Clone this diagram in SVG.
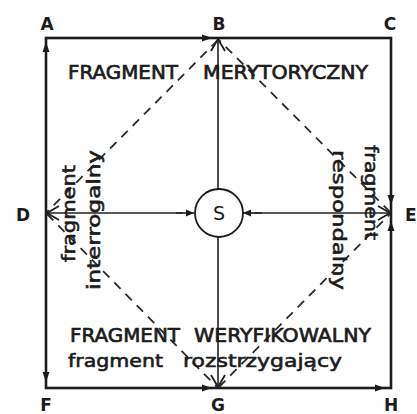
<svg xmlns="http://www.w3.org/2000/svg" width="417" height="414" viewBox="0 0 417 414">
  <style>
    .frame { fill: none; stroke: #1c1c1c; stroke-width: 2.6; }
    .axis { fill: none; stroke: #222; stroke-width: 1.6; }
    .dash { fill: none; stroke: #2a2a2a; stroke-width: 1.8; stroke-dasharray: 9 7; }
    .lbl { font-family: "DejaVu Sans", "Liberation Sans", sans-serif; font-size: 17px; font-weight: bold; fill: #1c1c1c; text-anchor: middle; }
    .cap { font-family: "DejaVu Sans", "Liberation Sans", sans-serif; font-size: 19px; fill: #1c1c1c; stroke: #1c1c1c; stroke-width: 0.7; }
    .low { font-family: "DejaVu Sans", "Liberation Sans", sans-serif; font-size: 18px; fill: #1c1c1c; stroke: #1c1c1c; stroke-width: 0.6; }
    .tri { fill: #1c1c1c; }
  </style>
  <defs>
    <marker id="open" viewBox="-14 -9 16 18" refX="0" refY="0" markerWidth="16" markerHeight="18" markerUnits="userSpaceOnUse" orient="auto">
      <path d="M-12,-7 L0,0 L-12,7" fill="none" stroke="#1c1c1c" stroke-width="1.8"/>
    </marker>
    <marker id="inward" viewBox="-9 -5 10 10" refX="0" refY="0" markerWidth="10" markerHeight="10" markerUnits="userSpaceOnUse" orient="auto">
      <path d="M-8,-3.5 L0,0 L-8,3.5 Z" fill="#1c1c1c"/>
    </marker>
  </defs>
  <rect width="417" height="414" fill="#ffffff"/>

  <g id="connectors">
    <rect class="frame" x="46" y="38" width="345" height="350"/>
    <!-- axes from S to B, D, E, G -->
    <line class="axis" x1="218" y1="189" x2="218" y2="39" marker-end="url(#open)"/>
    <line class="axis" x1="218" y1="237" x2="218" y2="387" marker-end="url(#open)"/>
    <line class="axis" x1="183" y1="213" x2="47" y2="213" marker-end="url(#open)"/>
    <line class="axis" x1="254" y1="213" x2="390" y2="213" marker-end="url(#open)"/>
    <!-- small arrows into S -->
    <line class="axis" x1="176" y1="213" x2="194" y2="213" marker-end="url(#inward)"/>
    <line class="axis" x1="262" y1="213" x2="243" y2="213" marker-end="url(#inward)"/>
    <!-- dashed diamond -->
    <line class="dash" x1="218" y1="40" x2="47" y2="212"/>
    <line class="dash" x1="47" y1="214" x2="217" y2="387"/>
    <line class="dash" x1="219" y1="387" x2="390" y2="214"/>
    <line class="dash" x1="390" y1="212" x2="219" y2="40"/>
    <!-- small filled arrowheads on the frame -->
    <path class="tri" d="M46,42 L42.5,52 L49.5,52 Z"/>
    <path class="tri" d="M212,38 L202,34.5 L202,41.5 Z"/>
    <path class="tri" d="M46,382 L42.5,372 L49.5,372 Z"/>
    <path class="tri" d="M212,388 L202,384.5 L202,391.5 Z"/>
    <path class="tri" d="M385,388 L375,384.5 L375,391.5 Z"/>
    <path class="tri" d="M391,205 L387.5,195 L394.5,195 Z"/>
    <path class="tri" d="M391,221 L387.5,231 L394.5,231 Z"/>
  </g>

  <g id="node-S">
    <circle cx="219" cy="213" r="24" fill="#ffffff" stroke="#1c1c1c" stroke-width="1.8"/>
    <text class="lbl" x="219" y="220" style="font-weight:normal;font-size:19px">S</text>
  </g>

  <g id="node-A"><text class="lbl" x="47" y="30">A</text></g>
  <g id="node-B"><text class="lbl" x="219" y="30">B</text></g>
  <g id="node-C"><text class="lbl" x="390" y="30">C</text></g>
  <g id="node-D"><text class="lbl" x="23" y="221">D</text></g>
  <g id="node-E"><text class="lbl" x="405" y="221" style="text-anchor:start">E</text></g>
  <g id="node-F"><text class="lbl" x="46" y="411">F</text></g>
  <g id="node-G"><text class="lbl" x="218" y="411">G</text></g>
  <g id="node-H"><text class="lbl" x="391" y="411">H</text></g>

  <g id="label-merytoryczny">
    <text class="cap" y="79"><tspan x="68" textLength="110" lengthAdjust="spacingAndGlyphs">FRAGMENT</tspan><tspan x="203" textLength="165" lengthAdjust="spacingAndGlyphs">MERYTORYCZNY</tspan></text>
  </g>
  <g id="label-weryfikowalny">
    <text class="cap" y="342"><tspan x="70" textLength="110" lengthAdjust="spacingAndGlyphs">FRAGMENT</tspan><tspan x="194" textLength="177" lengthAdjust="spacingAndGlyphs">WERYFIKOWALNY</tspan></text>
  </g>
  <g id="label-rozstrzygajacy">
    <text class="low" y="367"><tspan x="68" textLength="95" lengthAdjust="spacingAndGlyphs">fragment</tspan><tspan x="183" textLength="159" lengthAdjust="spacingAndGlyphs">rozstrzygający</tspan></text>
  </g>
  <g id="label-interrogalny">
    <text class="low" transform="translate(75,262) rotate(-90)" x="0" y="0" textLength="97" lengthAdjust="spacingAndGlyphs">fragment</text>
    <text class="low" transform="translate(100,290) rotate(-90)" x="0" y="0" textLength="140" lengthAdjust="spacingAndGlyphs">interrogalny</text>
  </g>
  <g id="label-respondalny">
    <text class="low" transform="translate(333,150) rotate(90)" x="0" y="0" textLength="140" lengthAdjust="spacingAndGlyphs">respondalny</text>
    <text class="low" transform="translate(365,145) rotate(90)" x="0" y="0" textLength="95" lengthAdjust="spacingAndGlyphs">fragment</text>
  </g>
</svg>
